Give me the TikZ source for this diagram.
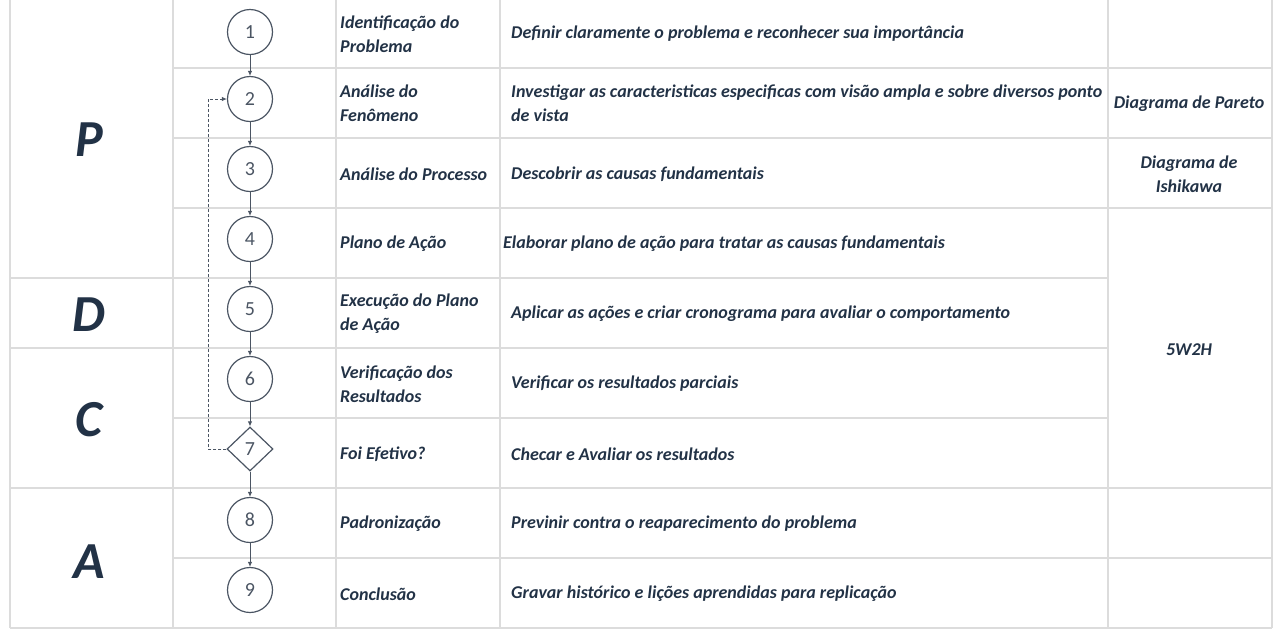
\documentclass[tikz,border=0pt]{standalone}
\usepackage{fontspec}
\setmainfont{Carlito}
\usetikzlibrary{shapes.geometric}
\usetikzlibrary{arrows.meta}

\definecolor{txtblue}{HTML}{223246}
\definecolor{gridgray}{HTML}{DCDCDC}
\definecolor{flowgray}{HTML}{4B5563}

\tikzset{
    gridline/.style={draw=gridgray, line width=1.6pt},
    stepcirc/.style={draw=flowgray, circle, minimum size=45pt, inner sep=0pt,
        line width=1.2pt, text=flowgray, font=\fontsize{20}{20}\selectfont},
    stepdiam/.style={draw=flowgray, diamond, minimum width=46pt, minimum height=44pt,
        inner sep=0pt, line width=1.2pt, text=flowgray, font=\fontsize{20}{20}\selectfont},
    celltext/.style={anchor=west, align=left, inner sep=0pt, text=txtblue,
        font=\bfseries\itshape\fontsize{18}{24}\selectfont},
    tooltext/.style={align=center, inner sep=0pt, text=txtblue,
        font=\bfseries\itshape\fontsize{18}{24}\selectfont},
    phase/.style={inner sep=0pt, text=txtblue,
        font=\bfseries\itshape\fontsize{52}{52}\selectfont},
    flow/.style={draw=flowgray, line width=1pt, -{Latex[length=5pt,width=4.5pt]}},
}

\begin{document}
\begin{tikzpicture}[x=1pt, y=-1pt]
    \useasboundingbox (0,0) rectangle (1280,630);

    % table grid
    \foreach \x in {10,173,336,500,1108,1272}
        \draw[gridline] (\x,0) -- (\x,628);
    \foreach \y in {68,138,...,628}
        \draw[gridline] (173,\y) -- (1108,\y);
    \foreach \y in {278,348,488,628}
        \draw[gridline] (10,\y) -- (173,\y);
    \foreach \y in {68,138,208,488,558,628}
        \draw[gridline] (1108,\y) -- (1272,\y);

    % PDCA phases
    \node[phase] (pP) at (89,140) {P};
    \node[phase] (pD) at (89,315) {D};
    \node[phase] (pC) at (89,420) {C};
    \node[phase] (pA) at (89,562) {A};

    % flow steps
    \node[stepcirc] (s1) at (250,32) {1};
    \node[stepcirc] (s2) at (250,99) {2};
    \node[stepcirc] (s3) at (250,169) {3};
    \node[stepcirc] (s4) at (250,239) {4};
    \node[stepcirc] (s5) at (250,309) {5};
    \node[stepcirc] (s6) at (250,379) {6};
    \node[stepdiam] (s7) at (250,449) {7};
    \node[stepcirc] (s8) at (250,520) {8};
    \node[stepcirc] (s9) at (250,590) {9};

    \foreach \a/\b in {s1/s2,s2/s3,s3/s4,s4/s5,s5/s6,s6/s7,s7/s8,s8/s9}
        \draw[flow] (\a) -- (\b);
    \draw[flow, dash pattern=on 3pt off 2pt] (s7.west) -- ++(-18,0) |- (s2.west);

    % step names
    \node[celltext] (n1) at (340,34) {Identificação do\\Problema};
    \node[celltext] (n2) at (340,103) {Análise do\\Fenômeno};
    \node[celltext] (n3) at (340,174) {Análise do Processo};
    \node[celltext] (n4) at (340,244) {Plano de Ação};
    \node[celltext] (n5) at (340,314) {Execução do Plano\\de Ação};
    \node[celltext] (n6) at (340,384) {Verificação dos\\Resultados};
    \node[celltext] (n7) at (340,454) {Foi Efetivo?};
    \node[celltext] (n8) at (340,524) {Padronização};
    \node[celltext] (n9) at (340,594) {Conclusão};

    % descriptions
    \node[celltext] (d1) at (511,34) {Definir claramente o problema e reconhecer sua importância};
    \node[celltext] (d2) at (511,103) {Investigar as caracteristicas especificas com visão ampla e sobre diversos ponto\\de vista};
    \node[celltext] (d3) at (511,174) {Descobrir as causas fundamentais};
    \node[celltext] (d4) at (503,244) {Elaborar plano de ação para tratar as causas fundamentais};
    \node[celltext] (d5) at (511,314) {Aplicar as ações e criar cronograma para avaliar o comportamento};
    \node[celltext] (d6) at (511,384) {Verificar os resultados parciais};
    \node[celltext] (d7) at (511,454) {Checar e Avaliar os resultados};
    \node[celltext] (d8) at (511,524) {Previnir contra o reaparecimento do problema};
    \node[celltext] (d9) at (511,594) {Gravar histórico e lições aprendidas para replicação};

    % tools
    \node[tooltext] (t2) at (1189,104) {Diagrama de Pareto};
    \node[tooltext] (t3) at (1189,174) {Diagrama de\\Ishikawa};
    \node[tooltext] (t4) at (1189,350) {5W2H};
\end{tikzpicture}
\end{document}
